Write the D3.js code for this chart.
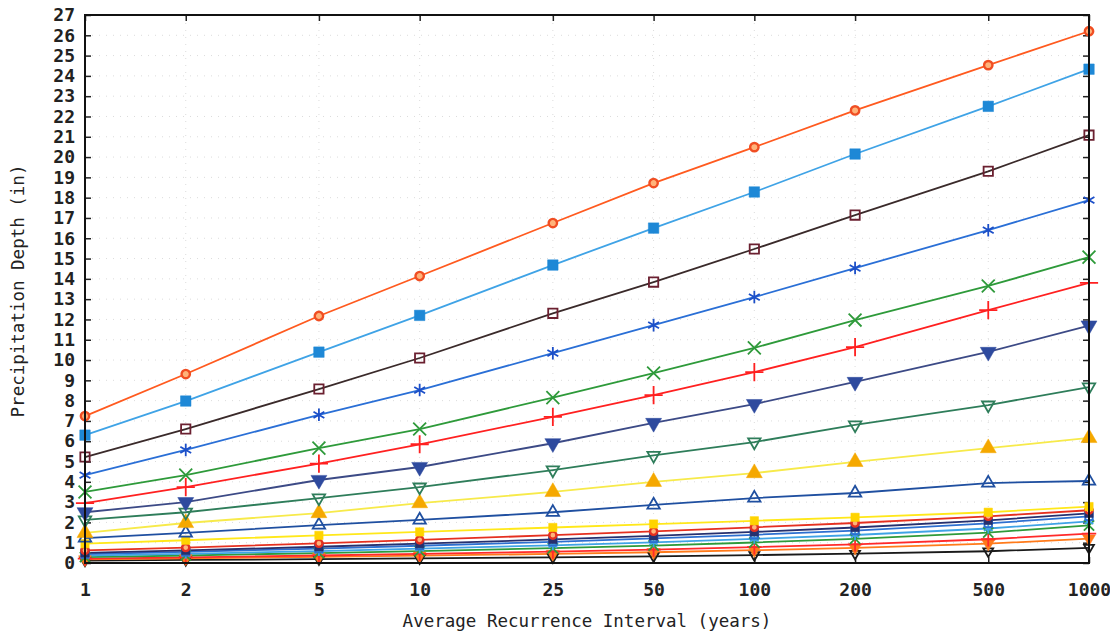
<!DOCTYPE html>
<html>
<head>
<meta charset="utf-8">
<script src="https://cdn.jsdelivr.net/npm/d3@7"></script>
<style>
  body { margin: 0; background: #fff; }
  text { font-family: "DejaVu Sans Mono", monospace; fill: #222; }
</style>
</head>
<body>
<div id="chart"></div>
<script>
// recurrence intervals (years)
const intervals = [1, 2, 5, 10, 25, 50, 100, 200, 500, 1000];
const yTicks = d3.range(0, 28);

// durations, bottom to top, depths in inches
const durations = ["5-min", "10-min", "15-min", "30-min", "60-min", "2-hr", "3-hr", "6-hr", "12-hr",
  "24-hr", "2-day", "3-day", "4-day", "7-day", "10-day", "20-day", "30-day", "45-day", "60-day"];

const depths = [
  [0.12, 0.15, 0.19, 0.23, 0.28, 0.33, 0.39, 0.46, 0.58, 0.75],
  [0.18, 0.23, 0.30, 0.36, 0.45, 0.53, 0.63, 0.75, 0.95, 1.20],
  [0.22, 0.28, 0.37, 0.45, 0.56, 0.66, 0.78, 0.92, 1.17, 1.45],
  [0.29, 0.37, 0.49, 0.59, 0.73, 0.86, 1.01, 1.19, 1.50, 1.85],
  [0.36, 0.45, 0.59, 0.71, 0.87, 1.02, 1.19, 1.38, 1.70, 2.05],
  [0.44, 0.55, 0.71, 0.85, 1.04, 1.21, 1.39, 1.60, 1.95, 2.30],
  [0.50, 0.62, 0.80, 0.95, 1.16, 1.34, 1.53, 1.75, 2.10, 2.45],
  [0.62, 0.76, 0.97, 1.14, 1.37, 1.56, 1.76, 1.97, 2.30, 2.60],
  [0.95, 1.12, 1.36, 1.53, 1.75, 1.92, 2.08, 2.25, 2.50, 2.78],
  [1.23, 1.48, 1.87, 2.12, 2.50, 2.86, 3.20, 3.45, 3.94, 4.04],
  [1.48, 1.97, 2.46, 2.95, 3.50, 4.00, 4.43, 4.98, 5.66, 6.16],
  [2.12, 2.50, 3.20, 3.74, 4.58, 5.30, 5.96, 6.80, 7.78, 8.67],
  [2.50, 3.00, 4.09, 4.73, 5.90, 6.90, 7.83, 8.92, 10.40, 11.70],
  [2.95, 3.74, 4.90, 5.85, 7.20, 8.27, 9.40, 10.64, 12.46, 13.80],
  [3.50, 4.33, 5.66, 6.60, 8.15, 9.36, 10.60, 11.97, 13.65, 15.07],
  [4.33, 5.57, 7.30, 8.52, 10.34, 11.72, 13.10, 14.53, 16.40, 17.88],
  [5.22, 6.60, 8.57, 10.10, 12.30, 13.84, 15.47, 17.14, 19.30, 21.08],
  [6.30, 7.98, 10.39, 12.20, 14.68, 16.50, 18.28, 20.15, 22.50, 24.33],
  [7.24, 9.31, 12.17, 14.14, 16.75, 18.72, 20.49, 22.30, 24.53, 26.20]
];

const lineColors = ["#1a1a1a", "#ff7a1a", "#ff2a2a", "#2e9a3a", "#3fa3e6", "#2d6fd0", "#26306e", "#e53020", "#ffe81a",
  "#1f4fa0", "#f7ea4a", "#2e7d5a", "#3c4a86", "#ff2020", "#2e9a3a", "#2a6fd6", "#3a2a2a", "#3fa3e6", "#ff5a1f"];
const markerColors = ["#1a1a1a", "#ff7a1a", "#ff2a2a", "#2e9a3a", "#3fa3e6", "#2d6fd0", "#26306e", "#e53020", "#ffd400",
  "#1f4fa0", "#f5a800", "#2e7d5a", "#2e4a9e", "#ff2020", "#2e9a3a", "#1c4fc8", "#6b2030", "#1e88d6", "#f04e23"];
const markerTypes = ["otriD", "ftriD", "plus", "times", "ast", "osq", "fsq", "circ", "fsq",
  "otri", "ftri", "otriD", "ftriD", "plus", "times", "ast", "osq", "fsq", "circ"];

const width = 1110, height = 635;
const margin = { left: 85, right: 21, top: 15, bottom: 72 };

const svg = d3.select("#chart").append("svg")
  .attr("width", width).attr("height", height);

const x = d3.scaleLog().domain([1, 1000]).range([margin.left, width - margin.right]);
const y = d3.scaleLinear().domain([0, 27]).range([height - margin.bottom, margin.top]);

// faint dotted grid
svg.append("g").selectAll("line").data(yTicks.slice(1, -1)).join("line")
  .attr("x1", x(1)).attr("x2", x(1000)).attr("y1", d => y(d)).attr("y2", d => y(d))
  .attr("stroke", "#dcdcdc").attr("stroke-width", 1).attr("stroke-dasharray", "1,6");
svg.append("g").selectAll("line").data(intervals.slice(1, -1)).join("line")
  .attr("x1", d => x(d)).attr("x2", d => x(d)).attr("y1", y(0)).attr("y2", y(27))
  .attr("stroke", "#dcdcdc").attr("stroke-width", 1).attr("stroke-dasharray", "1,6");

// axes with inward ticks
const fontSize = 18;
const styleAxis = g => {
  g.select(".domain").remove();
  g.selectAll(".tick line").attr("stroke", "#222").attr("stroke-width", 1.5);
  g.selectAll(".tick text").style("font-size", fontSize + "px").style("font-weight", "bold").attr("fill", "#222");
};

svg.append("g").attr("transform", `translate(${x(1)},0)`)
  .call(d3.axisLeft(y).tickValues(yTicks).tickSize(-6).tickPadding(10).tickFormat(d3.format("d")))
  .call(styleAxis);
svg.append("g").attr("transform", `translate(${x(1000)},0)`)
  .call(d3.axisRight(y).tickValues(yTicks).tickSize(-6).tickFormat(""))
  .call(styleAxis);
svg.append("g").attr("transform", `translate(0,${y(0)})`)
  .call(d3.axisBottom(x).tickValues(intervals).tickSize(-6).tickPadding(20).tickFormat(d3.format("d")))
  .call(styleAxis);
svg.append("g").attr("transform", `translate(0,${y(27)})`)
  .call(d3.axisTop(x).tickValues(intervals).tickSize(-6).tickFormat(""))
  .call(styleAxis);

// series
const line = d3.line().x((d, i) => x(intervals[i])).y(d => y(d));
const series = durations.map((name, i) => ({ name, values: depths[i], i }));

const symbolFor = t => {
  const s = {
    plus: d3.symbolPlus || d3.symbolCross,
    times: d3.symbolTimes || d3.symbolX || d3.symbolCross,
    ast: d3.symbolAsterisk || d3.symbolStar,
    osq: d3.symbolSquare2 || d3.symbolSquare,
    fsq: d3.symbolSquare,
    circ: d3.symbolCircle,
    otri: d3.symbolTriangle2 || d3.symbolTriangle,
    ftri: d3.symbolTriangle,
    otriD: d3.symbolTriangle2 || d3.symbolTriangle,
    ftriD: d3.symbolTriangle
  };
  return s[t];
};
const filled = t => ["fsq", "ftri", "ftriD"].includes(t);

const g = svg.append("g");
series.forEach(s => {
  g.append("path").datum(s.values)
    .attr("d", line)
    .attr("fill", "none")
    .attr("stroke", lineColors[s.i])
    .attr("stroke-width", 1.8);
});

series.forEach(s => {
  const t = markerTypes[s.i];
  const big = s.i >= 9;
  let size = big ? 110 : 70;
  if (t === "circ") size = big ? 55 : 40;
  const rot = (t === "otriD" || t === "ftriD") ? 180 : 0;
  g.append("g").selectAll("path").data(s.values).join("path")
    .attr("transform", (d, j) => `translate(${x(intervals[j])},${y(d)}) rotate(${rot})`)
    .attr("d", d3.symbol().type(symbolFor(t)).size(size))
    .attr("fill", filled(t) ? markerColors[s.i] : (t === "circ" ? "#ffb37a" : "none"))
    .attr("stroke", markerColors[s.i])
    .attr("stroke-width", filled(t) ? 0.5 : (t === "circ" ? 2.4 : 1.8));
});

// frame
svg.append("rect")
  .attr("x", x(1)).attr("y", y(27))
  .attr("width", x(1000) - x(1)).attr("height", y(0) - y(27))
  .attr("fill", "none").attr("stroke", "#111").attr("stroke-width", 2);

// titles
svg.append("text")
  .attr("x", (x(1) + x(1000)) / 2).attr("y", 627)
  .attr("text-anchor", "middle")
  .style("font-size", "17.5px")
  .text("Average Recurrence Interval (years)");

svg.append("text")
  .attr("transform", `translate(24,${(y(0) + y(27)) / 2 + 2}) rotate(-90)`)
  .attr("text-anchor", "middle")
  .style("font-size", "17.5px")
  .text("Precipitation Depth (in)");
</script>
</body>
</html>
